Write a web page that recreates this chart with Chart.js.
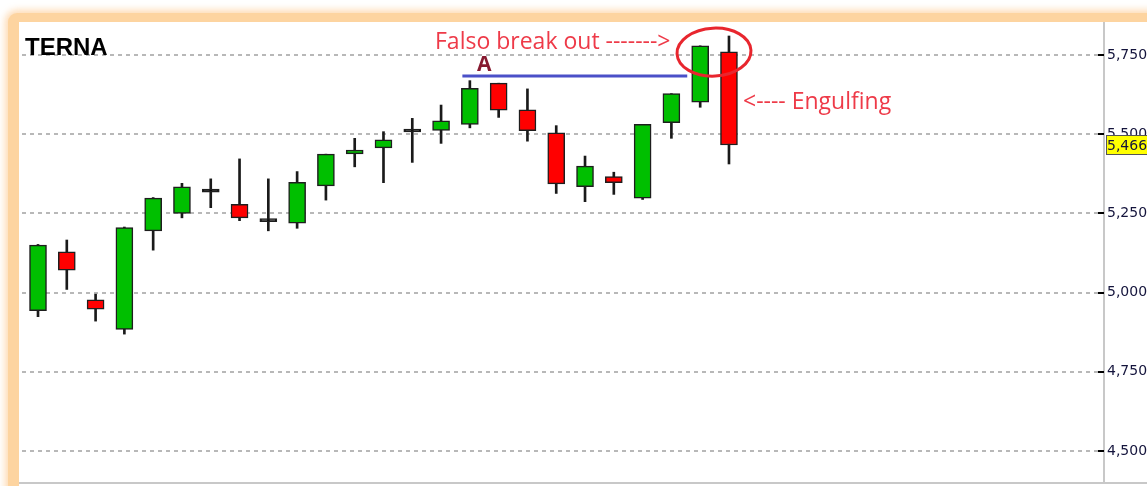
<!DOCTYPE html>
<html lang="it">
<head>
    <meta charset="UTF-8">
    <title>TERNA</title>
    <style>
        * {
            margin: 0;
            padding: 0;
            box-sizing: border-box;
        }
        body {
            width: 1147px;
            height: 486px;
            overflow: hidden;
            background: #FFFFFF;
            position: relative;
        }
        .frame {
            position: absolute;
            left: 8px;
            top: 13px;
            width: 1180px;
            height: 500px;
            background: #FDD4A0;
            border-radius: 9px;
            box-shadow: 0 0 7px 3px rgba(253, 207, 155, 0.75);
        }
        .panel {
            position: absolute;
            left: 19px;
            top: 22px;
            width: 1128px;
            height: 464px;
            background: #FFFFFF;
        }
        .baseline {
            position: absolute;
            left: 19px;
            top: 482px;
            width: 1128px;
            height: 2px;
            background: #C8C8C8;
        }
        canvas {
            position: absolute;
            left: 19px;
            top: 22px;
        }
        .note {
            position: absolute;
            white-space: nowrap;
            line-height: 1;
        }
        .title {
            left: 25px;
            top: 33px;
            font: bold 24px 'Liberation Sans', sans-serif;
            color: #000000;
        }
        .red {
            font: 23px 'Open Sans', sans-serif;
            color: #EE3A48;
        }
        .falso { left: 435px; top: 24px; }
        .engulf { left: 743px; top: 84px; }
        .mark-a {
            left: 477px;
            top: 49px;
            font: bold 21px 'Open Sans', sans-serif;
            color: #86192F;
        }
    </style>
</head>
<body>
    <div class="frame"></div>
    <div class="panel"></div>
    <div class="baseline"></div>
    <canvas id="chart" width="1128" height="464"></canvas>
    <div class="note title">TERNA</div>
    <div class="note red falso">Falso break out -------&gt;</div>
    <div class="note red engulf">&lt;---- Engulfing</div>
    <div class="note mark-a">A</div>

    <script src="https://cdn.jsdelivr.net/npm/chart.js@4/dist/chart.umd.min.js"></script>
    <script>
        // daily candles
        const opens  = [4943, 5129, 4977, 4884, 5195, 5250, 5317, 5279, 5224, 5219, 5337, 5438, 5457, 5507, 5512, 5531, 5661, 5577, 5504, 5334, 5366, 5298, 5536, 5601, 5760];
        const highs  = [5152, 5166, 4995, 5207, 5300, 5345, 5359, 5422, 5359, 5382, 5437, 5487, 5508, 5550, 5592, 5669, 5661, 5643, 5527, 5431, 5380, 5531, 5628, 5779, 5810];
        const lows   = [4924, 5010, 4910, 4869, 5134, 5236, 5268, 5227, 5195, 5203, 5292, 5397, 5347, 5411, 5471, 5520, 5553, 5478, 5313, 5287, 5310, 5294, 5487, 5585, 5406];
        const closes = [5150, 5071, 4948, 5205, 5298, 5334, 5317, 5236, 5224, 5348, 5437, 5450, 5482, 5507, 5542, 5645, 5576, 5511, 5343, 5399, 5347, 5531, 5628, 5779, 5466];
        const sessions = opens.map((_, i) => i);

        // resistance "A" and the circled false break out
        const levelA = 5684;
        const levelAFrom = 14.74;
        const levelATo = 22.55;
        const circleAt = [23.48, 5759];

        const yTicks = [4500, 4750, 5000, 5250, 5500, 5750];
        const lastClose = closes[closes.length - 1];

        const green = '#00BF00';
        const red = '#FF0000';

        const wicks = sessions.map(i => ({ x: i, y: [lows[i], highs[i]] }));
        const bodies = sessions.map(i => ({ x: i, y: [opens[i], closes[i]] }));

        const overlay = {
            id: 'overlay',
            afterDraw(chart) {
                const { ctx, chartArea, scales: { x, y } } = chart;
                ctx.save();
                // black tick marks just inside the axis
                ctx.fillStyle = '#000000';
                yTicks.forEach(v => {
                    const py = Math.round(y.getPixelForValue(v));
                    ctx.fillRect(chartArea.right - 6, py - 1, 6, 2);
                });
                // hand drawn circle
                ctx.strokeStyle = '#E8262E';
                ctx.lineWidth = 3;
                ctx.beginPath();
                ctx.ellipse(x.getPixelForValue(circleAt[0]), y.getPixelForValue(circleAt[1]), 37, 24, -0.05, 0, Math.PI * 2);
                ctx.stroke();
                // last price tag
                const py = Math.round(y.getPixelForValue(lastClose));
                ctx.fillStyle = '#FFFF00';
                ctx.fillRect(chartArea.right + 2, py - 10, 50, 20);
                ctx.strokeStyle = '#555555';
                ctx.lineWidth = 1;
                ctx.strokeRect(chartArea.right + 2.5, py - 9.5, 50, 19);
                ctx.fillStyle = '#14143C';
                ctx.font = '14px "DejaVu Sans"';
                ctx.textBaseline = 'middle';
                ctx.fillText(lastClose.toLocaleString('en-US'), chartArea.right + 3, py + 1);
                ctx.restore();
            }
        };

        new Chart(document.getElementById('chart'), {
            type: 'bar',
            data: {
                datasets: [
                    {
                        type: 'line',
                        data: [{ x: levelAFrom, y: levelA }, { x: levelATo, y: levelA }],
                        borderColor: '#4B50C8',
                        borderWidth: 3,
                        pointRadius: 0,
                        order: 0
                    },
                    {
                        data: bodies,
                        grouped: false,
                        barThickness: 17,
                        minBarLength: 3,
                        borderWidth: 1.5,
                        borderSkipped: false,
                        borderColor: '#1E1E1E',
                        backgroundColor: ctx => {
                            const i = ctx.dataIndex;
                            if (closes[i] > opens[i]) return green;
                            if (closes[i] < opens[i]) return red;
                            return '#000000';
                        },
                        order: 1
                    },
                    {
                        data: wicks,
                        grouped: false,
                        barThickness: 2,
                        borderWidth: 0,
                        backgroundColor: '#1A1A1A',
                        order: 2
                    }
                ]
            },
            options: {
                responsive: false,
                animation: false,
                layout: { padding: { left: 3, top: 1, bottom: 3, right: 0 } },
                plugins: {
                    legend: { display: false },
                    tooltip: { enabled: false }
                },
                scales: {
                    x: {
                        type: 'linear',
                        display: false,
                        offset: false,
                        min: -0.556,
                        max: 37.026
                    },
                    y: {
                        position: 'right',
                        min: 4399,
                        max: 5851,
                        afterFit: s => {
                            s.width = 43;
                            s.paddingTop = 0;
                            s.paddingBottom = 0;
                        },
                        afterBuildTicks: s => { s.ticks = yTicks.map(v => ({ value: v })); },
                        ticks: {
                            padding: 3,
                            color: '#14143C',
                            font: { family: 'DejaVu Sans', size: 14 }
                        },
                        grid: {
                            color: '#B8B8B8',
                            lineWidth: 2,
                            drawTicks: false
                        },
                        border: {
                            display: true,
                            color: '#C8C8C8',
                            width: 2,
                            dash: [4, 4]
                        }
                    }
                }
            },
            plugins: [overlay]
        });
    </script>
</body>
</html>
